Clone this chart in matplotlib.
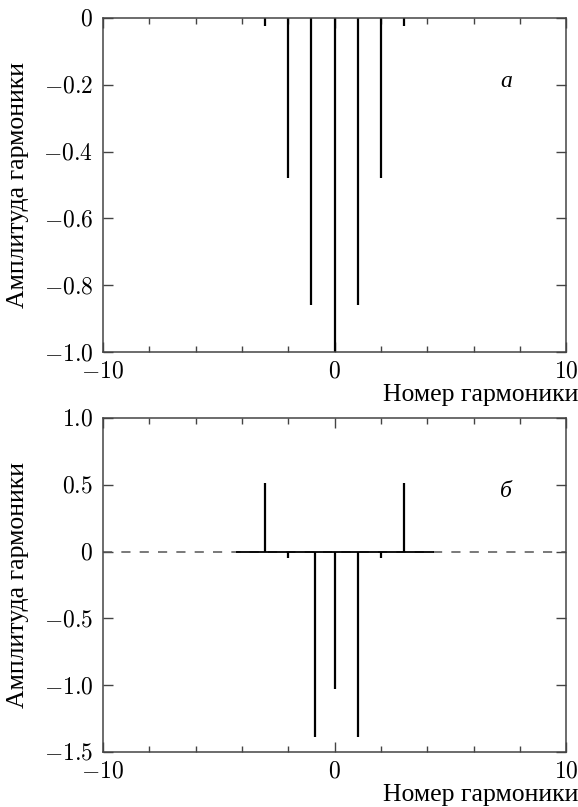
import matplotlib.pyplot as plt
import numpy as np

plt.rcParams['mathtext.fontset'] = 'cm'
plt.rcParams['font.family'] = ['Liberation Serif', 'DejaVu Serif']

# harmonic spectra
n_a = [-3, -2, -1, 0, 1, 2, 3]
amp_a = [-0.024, -0.48, -0.86, -1.0, -0.86, -0.48, -0.024]

n_b = [-3, -2, -0.85, 0, 1, 2, 3]
amp_b = [0.51, -0.05, -1.39, -1.03, -1.39, -0.05, 0.51]
base_b = [-4.25, 4.3]

xlim = (-10, 10)
xticks_major = [-10, 0, 10]
xticks_minor = [-8, -6, -4, -2, 2, 4, 6, 8]
yticks_a = [-1.0, -0.8, -0.6, -0.4, -0.2, 0]
ylabels_a = ['$-1.0$', '$-0.8$', '$-0.6$', '$-0.4$', '$-0.2$', '$0$']
yticks_b = [-1.5, -1.0, -0.5, 0, 0.5, 1.0]
ylabels_b = ['$-1.5$', '$-1.0$', '$-0.5$', '$0$', '$0.5$', '$1.0$']

xlabel = 'Номер гармоники'
ylabel = 'Амплитуда гармоники'
fs = 17
lfs = 18.5
spine_c = '#444444'

fig = plt.figure(figsize=(5.78, 8.07), dpi=100)
ax1 = fig.add_axes([0.178, 0.5638, 0.802, 0.4139])
ax2 = fig.add_axes([0.178, 0.0682, 0.802, 0.4139])


def style(ax, yticks, ylabels, ylim):
  ax.set_xlim(*xlim)
  ax.set_ylim(*ylim)
  ax.set_xticks(xticks_major, labels=['$-10$', '$0$', '$10$'])
  ax.set_xticks(xticks_minor, minor=True)
  ax.set_yticks(yticks, labels=ylabels)
  ax.tick_params(which='both', direction='in', top=True, right=True,
                 labelsize=fs, color=spine_c)
  ax.tick_params(which='major', length=7, width=1, pad=7)
  ax.tick_params(which='minor', length=4, width=1)
  for s in ax.spines.values():
    s.set_color(spine_c)
    s.set_linewidth(1.1)
  ax.set_xlabel(xlabel, fontsize=lfs, loc='right')
  ax.xaxis.set_label_coords(1.025, -0.095)
  # y label sits near the left edge of the figure
  bb = ax.get_position()
  fig.text(18 / 578, bb.y0 + bb.height / 2, ylabel, fontsize=lfs,
           rotation=90, ha='center', va='center')


# top panel
ax1.vlines(n_a, 0, amp_a, colors='black', lw=1.6)
style(ax1, yticks_a, ylabels_a, (-1.0, 0))
ax1.text(7.4, -0.19, 'а', fontsize=fs, style='italic', ha='center', va='center')

# bottom panel
ax2.axhline(0, color='#555555', lw=1.1, dashes=(6, 6))
ax2.hlines(0, base_b[0], base_b[1], colors='black', lw=1.3)
ax2.vlines(n_b, 0, amp_b, colors='black', lw=1.6)
style(ax2, yticks_b, ylabels_b, (-1.5, 1.0))
ax2.text(7.4, 0.45, 'б', fontsize=fs, style='italic', ha='center', va='center')

fig.savefig('out.png', dpi=100)
